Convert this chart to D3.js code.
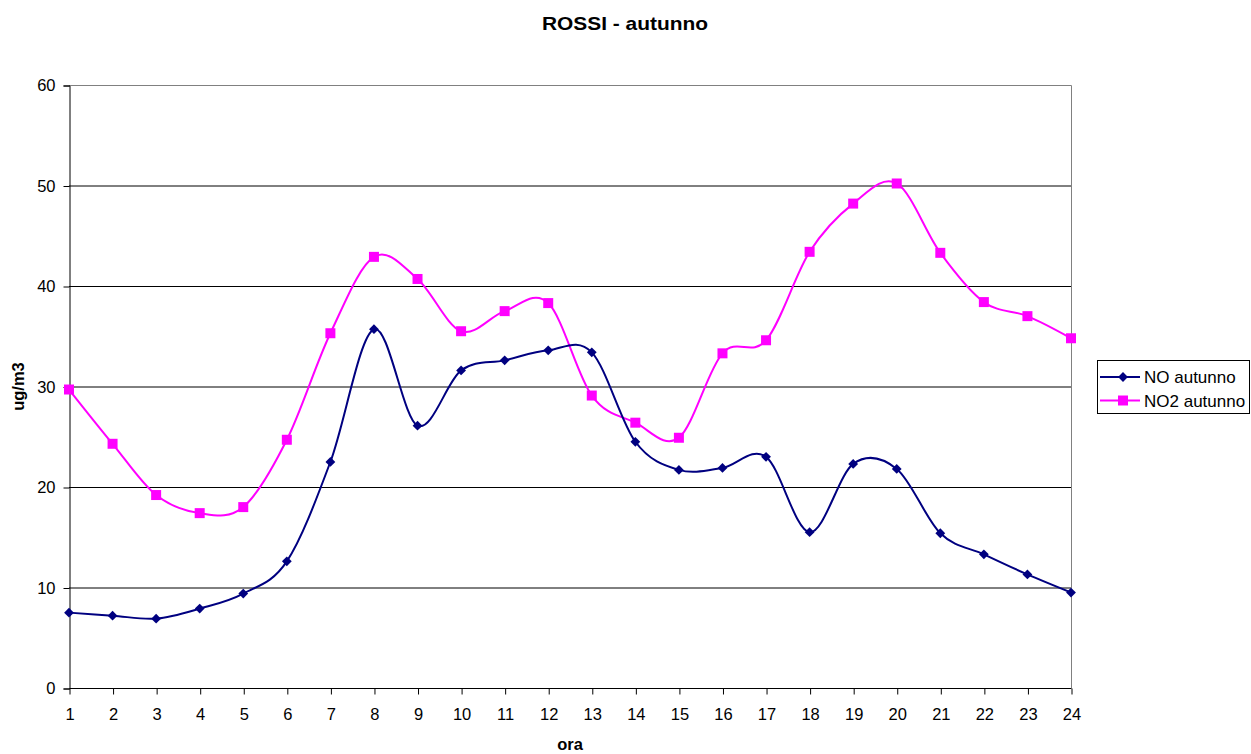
<!DOCTYPE html>
<html>
<head>
<meta charset="utf-8">
<script src="https://cdn.jsdelivr.net/npm/d3@7"></script>
<style>
  html, body { margin: 0; padding: 0; background: #fff; }
  svg { display: block; font-family: "Liberation Sans", Arial, sans-serif; }
</style>
</head>
<body>
<svg id="chart" width="1251" height="754"></svg>
<script>
// Hourly averages, autumn
const hours = d3.range(1, 25);
const noValues = [7.5, 7.2, 6.9, 7.9, 9.4, 12.6, 22.5, 35.7, 26.1, 31.6, 32.6, 33.6, 33.4, 24.5,
                  21.7, 21.9, 23.0, 15.5, 22.3, 21.8, 15.4, 13.3, 11.3, 9.5];
const no2Values = [29.7, 24.3, 19.2, 17.4, 18.0, 24.7, 35.3, 42.9, 40.7, 35.5, 37.5, 38.3, 29.1, 26.4,
                   24.9, 33.3, 34.6, 43.4, 48.2, 50.2, 43.3, 38.4, 37.0, 34.8];
const yTicks = [0, 10, 20, 30, 40, 50, 60];
const seriesNames = ["NO autunno", "NO2 autunno"];

const svg = d3.select("#chart");
const plot = { left: 69, right: 1071, top: 85, bottom: 688 };
const fontFamily = "Liberation Sans, Arial, sans-serif";

const x = d3.scalePoint().domain(hours).range([plot.left, plot.right]);
const y = d3.scaleLinear().domain([0, 60]).range([plot.bottom, plot.top]);

// Title
svg.append("text").attr("x", 625).attr("y", 30).attr("text-anchor", "middle")
  .attr("font-size", 18.5).attr("font-weight", "bold")
  .attr("textLength", 166).attr("lengthAdjust", "spacingAndGlyphs")
  .text("ROSSI - autunno");

// Gridlines
svg.append("g").selectAll("line").data(yTicks.filter(d => d > 0 && d < 60)).join("line")
  .attr("x1", plot.left).attr("x2", plot.right)
  .attr("y1", d => y(d) + 0.5).attr("y2", d => y(d) + 0.5)
  .attr("stroke", "#000").attr("stroke-width", 1);

// Plot-area border (top and right)
svg.append("path")
  .attr("d", `M${plot.left},${plot.top + 0.5}H${plot.right + 0.5}V${plot.bottom}`)
  .attr("fill", "none").attr("stroke", "#808080").attr("stroke-width", 1);

// Y axis
const yAxis = d3.axisLeft(y).tickValues(yTicks).tickSize(6).tickPadding(8);
const gy = svg.append("g").attr("transform", `translate(${plot.left + 0.5},0.5)`).call(yAxis);
gy.select(".domain").attr("stroke", "#000");
gy.selectAll(".tick line").attr("stroke", "#000");
gy.selectAll("text").attr("font-size", 16.5).attr("fill", "#000").attr("font-family", fontFamily);

// X axis
const xAxis = d3.axisBottom(x).tickSize(6).tickPadding(14);
const gx = svg.append("g").attr("transform", `translate(0.5,${plot.bottom + 0.5})`).call(xAxis);
gx.select(".domain").attr("stroke", "#000").attr("d", `M${plot.left},0H${plot.right}`);
gx.selectAll(".tick line").attr("stroke", "#000");
gx.selectAll("text").attr("font-size", 16.5).attr("fill", "#000").attr("font-family", fontFamily);

// Axis titles
svg.append("text").attr("x", 570).attr("y", 750).attr("text-anchor", "middle")
  .attr("font-size", 16.5).attr("font-weight", "bold").text("ora");
svg.append("text").attr("transform", `translate(24,${(plot.top + plot.bottom) / 2}) rotate(-90)`)
  .attr("text-anchor", "middle").attr("font-size", 16.5).attr("font-weight", "bold").text("ug/m3");

// Series
const line = d3.line().x((d, i) => x(hours[i])).y(d => y(d)).curve(d3.curveCardinal.tension(0));
const colors = ["#000080", "#FF00FF"];
const diamond = d3.symbol().type(d3.symbolSquare).size(48);
const square = d3.symbol().type(d3.symbolSquare).size(100);

svg.append("path").datum(no2Values).attr("d", line)
  .attr("fill", "none").attr("stroke", colors[1]).attr("stroke-width", 2);
svg.append("path").datum(noValues).attr("d", line)
  .attr("fill", "none").attr("stroke", colors[0]).attr("stroke-width", 2);

svg.append("g").selectAll("path").data(noValues).join("path")
  .attr("transform", (d, i) => `translate(${x(hours[i])},${y(d)}) rotate(45)`)
  .attr("d", diamond).attr("fill", colors[0]);
svg.append("g").selectAll("path").data(no2Values).join("path")
  .attr("transform", (d, i) => `translate(${x(hours[i])},${y(d)})`)
  .attr("d", square).attr("fill", colors[1]);

// Legend
const lg = svg.append("g");
lg.append("rect").attr("x", 1097.5).attr("y", 360.5).attr("width", 152).attr("height", 53)
  .attr("fill", "#fff").attr("stroke", "#000");
const markers = [{ shape: diamond, rot: 45 }, { shape: square, rot: 0 }];
seriesNames.forEach((name, i) => {
  const cy = 377 + i * 23.5;
  lg.append("line").attr("x1", 1100).attr("x2", 1140).attr("y1", cy).attr("y2", cy)
    .attr("stroke", colors[i]).attr("stroke-width", 2);
  lg.append("path").attr("transform", `translate(1123,${cy}) rotate(${markers[i].rot})`)
    .attr("d", markers[i].shape).attr("fill", colors[i]);
  lg.append("text").attr("x", 1144).attr("y", cy).attr("dy", "0.36em")
    .attr("font-size", 17).text(name);
});
</script>
</body>
</html>
